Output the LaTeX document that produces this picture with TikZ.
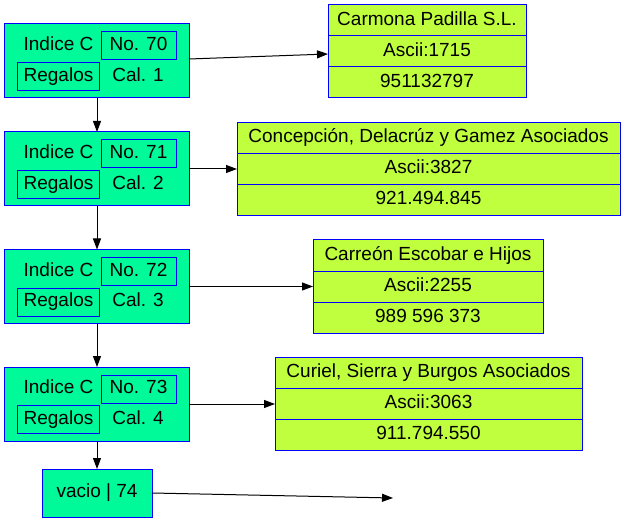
\documentclass[tikz,border=0pt]{standalone}
\usepackage{fontspec}
\setmainfont{Liberation Sans}
\usepackage{xcolor}
\definecolor{springgreen}{HTML}{00FA9A}
\definecolor{olivelime}{HTML}{C0FF3E}
\definecolor{rim}{HTML}{0000FF}
\usepackage{tikz}
\usetikzlibrary{arrows.meta}

\begin{document}
\begin{tikzpicture}[x=1bp,y=-1bp,>={Triangle[length=11bp,width=8bp]},
  every node/.style={font=\fontsize{19bp}{22bp}\selectfont,inner sep=0pt,outer sep=0pt,text height=13.6bp,text depth=4bp},
  indexbox/.style={draw=rim,fill=springgreen,line width=1bp,minimum width=184bp,minimum height=74bp},
  tagbox/.style={draw=rim,line width=1bp,minimum height=28bp},
  recrow/.style={draw=rim,fill=olivelime,line width=1bp,minimum height=31bp}]
\useasboundingbox (0,0) rectangle (625,528);
% index nodes
\node[indexbox] (c1) at (97,61) {};
\node (c1i) at (58.5,46) {Indice C};
\node[tagbox,minimum width=75bp] (c1n) at (138.5,46) {No. 70};
\node[tagbox,minimum width=81bp] (c1r) at (58.5,76.5) {Regalos};
\node (c1k) at (138,76.5) {Cal. 1};
\node[indexbox] (c2) at (97,169) {};
\node (c2i) at (58.5,154) {Indice C};
\node[tagbox,minimum width=75bp] (c2n) at (138.5,154) {No. 71};
\node[tagbox,minimum width=81bp] (c2r) at (58.5,184.5) {Regalos};
\node (c2k) at (138,184.5) {Cal. 2};
\node[indexbox] (c3) at (97,286.5) {};
\node (c3i) at (58.5,271.5) {Indice C};
\node[tagbox,minimum width=75bp] (c3n) at (138.5,271.5) {No. 72};
\node[tagbox,minimum width=81bp] (c3r) at (58.5,302) {Regalos};
\node (c3k) at (138,302) {Cal. 3};
\node[indexbox] (c4) at (97,404) {};
\node (c4i) at (58.5,389) {Indice C};
\node[tagbox,minimum width=75bp] (c4n) at (138.5,389) {No. 73};
\node[tagbox,minimum width=81bp] (c4r) at (58.5,419.5) {Regalos};
\node (c4k) at (138,419.5) {Cal. 4};
\node[indexbox,minimum width=110bp,minimum height=48bp] (v) at (97,493) {vacio | 74};
\coordinate (vend) at (393,498);
% records
\node[recrow,minimum width=198bp] (r1a) at (427,20.5) {Carmona Padilla S.L.};
\node[recrow,minimum width=198bp] (r1b) at (427,51.5) {Ascii:1715};
\node[recrow,minimum width=198bp] (r1c) at (427,82.5) {951132797};
\node[recrow,minimum width=383bp] (r2a) at (428.5,138) {Concepción, Delacrúz y Gamez Asociados};
\node[recrow,minimum width=383bp] (r2b) at (428.5,169) {Ascii:3827};
\node[recrow,minimum width=383bp] (r2c) at (428.5,200) {921.494.845};
\node[recrow,minimum width=230bp] (r3a) at (428,255.5) {Carreón Escobar e Hijos};
\node[recrow,minimum width=230bp] (r3b) at (428,286.5) {Ascii:2255};
\node[recrow,minimum width=230bp] (r3c) at (428,317.5) {989 596 373};
\node[recrow,minimum width=307bp] (r4a) at (428.5,373) {Curiel, Sierra y Burgos Asociados};
\node[recrow,minimum width=307bp] (r4b) at (428.5,404) {Ascii:3063};
\node[recrow,minimum width=307bp] (r4c) at (428.5,435) {911.794.550};
% links
\draw[->,line width=1bp] (c1) -- (c2);
\draw[->,line width=1bp] (c2) -- (c3);
\draw[->,line width=1bp] (c3) -- (c4);
\draw[->,line width=1bp] (c4) -- (v);
\draw[->,line width=1bp] ([yshift=2bp]c1.east) -- ([yshift=-2.5bp]r1b.west);
\draw[->,line width=1bp] (c2.east) -- (r2b.west);
\draw[->,line width=1bp] (c3.east) -- (r3b.west);
\draw[->,line width=1bp] (c4.east) -- (r4b.west);
\draw[->,line width=1bp] (v.east) -- (vend);
\end{tikzpicture}
\end{document}
